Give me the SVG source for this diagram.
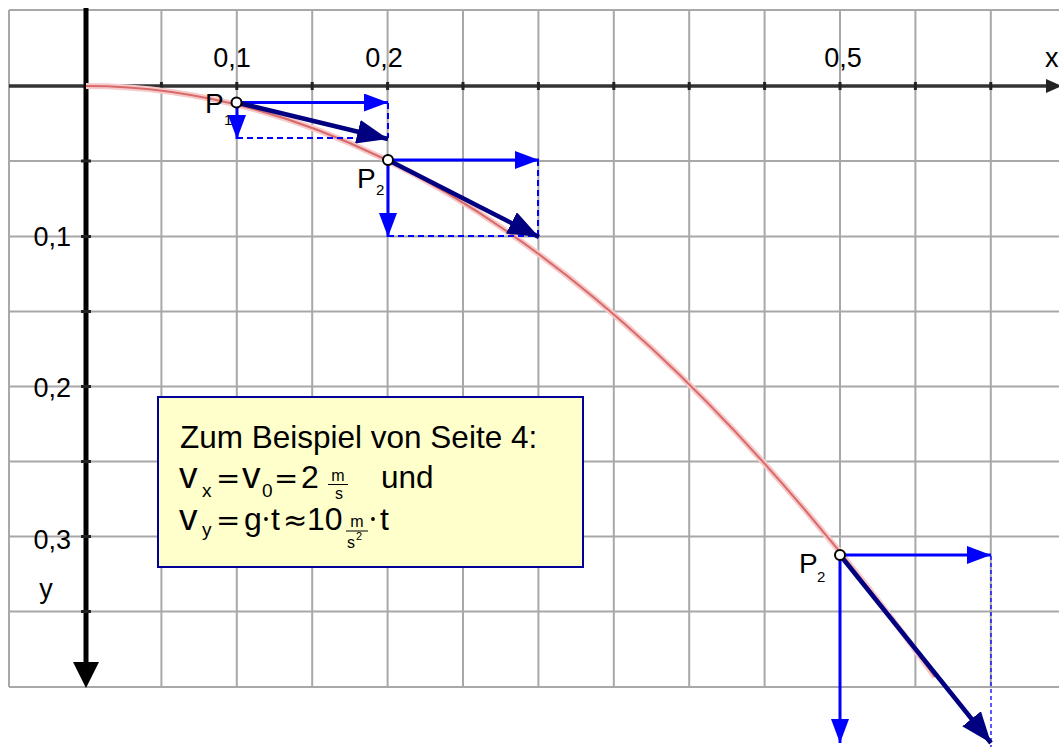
<svg xmlns="http://www.w3.org/2000/svg" width="1059" height="747" viewBox="0 0 1059 747">
<style>
  .grid line{stroke:#a8a8a8;stroke-width:2}
  .gridlt{stroke:#cfcfcf;stroke-width:2}
  .lbl{font-family:"Liberation Sans",Arial,sans-serif;font-size:27px;fill:#000}
  .plbl{font-family:"Liberation Sans",Arial,sans-serif;font-size:28px;fill:#000}
  .sub{font-family:"Liberation Sans",Arial,sans-serif;font-size:15px;fill:#000}
  .bx{font-family:"Liberation Sans",Arial,sans-serif;font-size:31.5px;fill:#000}
  .mv{font-family:"Liberation Sans",Arial,sans-serif;font-size:37px;fill:#000}
  .meq{font-family:"DejaVu Sans",sans-serif;font-size:29px;fill:#000}
  .md{font-family:"Liberation Sans",Arial,sans-serif;font-size:32px;fill:#000}
  .bsub{font-family:"Liberation Sans",Arial,sans-serif;font-size:19px;fill:#000}
  .fr{font-family:"Liberation Sans",Arial,sans-serif;font-size:16px;fill:#000}
  .vb{stroke:#0000ff;stroke-width:3;fill:none;marker-end:url(#blueHead)}
  .vn{stroke:#000080;stroke-width:4.5;fill:none;marker-end:url(#navyHead)}
  .dash{stroke:#0000ff;stroke-width:2;stroke-dasharray:6 4;fill:none}
  .dashthin{stroke:#0000ff;stroke-width:1.3;stroke-dasharray:4 3;fill:none}
  .pt{fill:#fff;stroke:#000;stroke-width:2}
  .tick{stroke:#222;stroke-width:3}
</style>
<defs>
  <marker id="blueHead" markerUnits="userSpaceOnUse" markerWidth="24" markerHeight="18" refX="24" refY="9" orient="auto">
    <path d="M0,0 L24,9 L0,18 z" fill="#0000ff"/>
  </marker>
  <marker id="navyHead" markerUnits="userSpaceOnUse" markerWidth="31" markerHeight="24" refX="31" refY="12" orient="auto">
    <path d="M0,0 L31,12 L0,24 z" fill="#000080"/>
  </marker>
</defs>
<rect width="1059" height="747" fill="#fff"/>

<g id="grid" class="grid">
  <line class="gridlt" x1="9" y1="10" x2="1059" y2="10"/>
  <line x1="9" y1="161" x2="1059" y2="161"/>
  <line x1="9" y1="236.5" x2="1059" y2="236.5"/>
  <line x1="9" y1="311.5" x2="1059" y2="311.5"/>
  <line x1="9" y1="386.5" x2="1059" y2="386.5"/>
  <line x1="9" y1="461.5" x2="1059" y2="461.5"/>
  <line x1="9" y1="536.5" x2="1059" y2="536.5"/>
  <line x1="9" y1="611.5" x2="1059" y2="611.5"/>
  <line x1="9" y1="687" x2="1059" y2="687"/>
  <line class="gridlt" x1="9" y1="10" x2="9" y2="687"/>
  <line x1="161.4" y1="10" x2="161.4" y2="687"/>
  <line x1="236.8" y1="10" x2="236.8" y2="687"/>
  <line x1="312.2" y1="10" x2="312.2" y2="687"/>
  <line x1="387.6" y1="10" x2="387.6" y2="687"/>
  <line x1="463" y1="10" x2="463" y2="687"/>
  <line x1="538.4" y1="10" x2="538.4" y2="687"/>
  <line x1="613.8" y1="10" x2="613.8" y2="687"/>
  <line x1="689.2" y1="10" x2="689.2" y2="687"/>
  <line x1="764.6" y1="10" x2="764.6" y2="687"/>
  <line x1="840" y1="10" x2="840" y2="687"/>
  <line x1="915.4" y1="10" x2="915.4" y2="687"/>
  <line x1="990.8" y1="10" x2="990.8" y2="687"/>
</g>

<g id="axes">
  <line x1="9" y1="86" x2="1048" y2="86" stroke="#333" stroke-width="3.5"/>
  <path d="M1046,79 L1062,86 L1046,93 z" fill="#222"/>
  <line x1="86" y1="8" x2="86" y2="664" stroke="#000" stroke-width="5"/>
  <path d="M73,662 L99,662 L86,688 z" fill="#000"/>
  <g class="tick">
    <line x1="161.4" y1="82" x2="161.4" y2="90"/>
    <line x1="236.8" y1="82" x2="236.8" y2="90"/>
    <line x1="312.2" y1="82" x2="312.2" y2="90"/>
    <line x1="387.6" y1="82" x2="387.6" y2="90"/>
    <line x1="463" y1="82" x2="463" y2="90"/>
    <line x1="538.4" y1="82" x2="538.4" y2="90"/>
    <line x1="613.8" y1="82" x2="613.8" y2="90"/>
    <line x1="689.2" y1="82" x2="689.2" y2="90"/>
    <line x1="764.6" y1="82" x2="764.6" y2="90"/>
    <line x1="840" y1="82" x2="840" y2="90"/>
    <line x1="915.4" y1="82" x2="915.4" y2="90"/>
    <line x1="990.8" y1="82" x2="990.8" y2="90"/>
    <line x1="81" y1="161" x2="91" y2="161"/>
    <line x1="81" y1="236.5" x2="91" y2="236.5"/>
    <line x1="81" y1="311.5" x2="91" y2="311.5"/>
    <line x1="81" y1="386.5" x2="91" y2="386.5"/>
    <line x1="81" y1="461.5" x2="91" y2="461.5"/>
    <line x1="81" y1="536.5" x2="91" y2="536.5"/>
    <line x1="81" y1="611.5" x2="91" y2="611.5"/>
  </g>
  <text class="lbl" x="232" y="67" text-anchor="middle">0,1</text>
  <text class="lbl" x="384" y="67" text-anchor="middle">0,2</text>
  <text class="lbl" x="843" y="67" text-anchor="middle">0,5</text>
  <text class="lbl" x="1045" y="67">x</text>
  <text class="lbl" x="71" y="246" text-anchor="end">0,1</text>
  <text class="lbl" x="71" y="397" text-anchor="end">0,2</text>
  <text class="lbl" x="71" y="549" text-anchor="end">0,3</text>
  <text class="lbl" x="46" y="598" text-anchor="middle">y</text>
</g>

<g id="curve" fill="none">
  <path d="M86,86 Q510.5,86 935,677" stroke="#f6caca" stroke-width="6"/>
  <path d="M86,86 Q510.5,86 935,677" stroke="#d86a6a" stroke-width="2"/>
</g>

<g id="connectors">
  <line class="dash" x1="237" y1="138" x2="388" y2="138"/>
  <line class="dash" x1="388" y1="103" x2="388" y2="138"/>
  <line class="dash" x1="388" y1="236" x2="538" y2="236"/>
  <line class="dash" x1="538" y1="160" x2="538" y2="236"/>
  <line class="dashthin" x1="991" y1="556" x2="991" y2="747"/>

  <line class="vb" x1="237" y1="102.5" x2="388" y2="102.5"/>
  <line class="vb" x1="237" y1="102.5" x2="237" y2="139"/>
  <line class="vb" x1="388" y1="160" x2="539" y2="160"/>
  <line class="vb" x1="388" y1="160" x2="388" y2="237"/>
  <line class="vb" x1="840" y1="555" x2="991" y2="555"/>
  <line class="vb" x1="840" y1="555" x2="840" y2="743"/>

  <line class="vn" x1="237" y1="102.5" x2="388" y2="139"/>
  <line class="vn" x1="388" y1="160" x2="539" y2="237"/>
  <line class="vn" x1="840" y1="555" x2="991" y2="743"/>
</g>

<g id="P1">
  <circle class="pt" cx="236.5" cy="102.5" r="5"/>
  <text class="plbl" x="205" y="113">P</text>
  <text class="sub" x="224" y="125">1</text>
</g>
<g id="P2a">
  <circle class="pt" cx="388" cy="160" r="5"/>
  <text class="plbl" x="357" y="188">P</text>
  <text class="sub" x="376" y="195">2</text>
</g>
<g id="P2b">
  <circle class="pt" cx="840" cy="555" r="5"/>
  <text class="plbl" x="799" y="573">P</text>
  <text class="sub" x="817" y="582">2</text>
</g>

<g id="infobox">
  <rect x="158" y="397" width="425" height="170" fill="#ffffcc" stroke="#000099" stroke-width="2"/>
  <text class="bx" x="180" y="448">Zum Beispiel von Seite 4:</text>
  <text class="mv" x="179" y="488">v</text>
  <text class="bsub" x="202" y="497">x</text>
  <text class="meq" x="216" y="488">=</text>
  <text class="mv" x="242" y="488">v</text>
  <text class="bsub" x="262" y="497">0</text>
  <text class="meq" x="274" y="488">=</text>
  <text class="md" x="301" y="488">2</text>
  <text class="fr" x="338" y="481" text-anchor="middle">m</text>
  <line x1="328" y1="484.5" x2="348" y2="484.5" stroke="#000" stroke-width="1"/>
  <text class="fr" x="339" y="499" text-anchor="middle">s</text>
  <text class="bx" x="381" y="488">und</text>

  <text class="mv" x="179" y="530">v</text>
  <text class="bsub" x="202" y="536">y</text>
  <text class="meq" x="216" y="530">=</text>
  <text class="md" x="244" y="530">g</text>
  <circle cx="266" cy="519" r="1.9" fill="#000"/>
  <text class="md" x="271" y="530">t</text>
  <text class="meq" x="283" y="530">≈</text>
  <text class="md" x="307" y="530">10</text>
  <text class="fr" x="357" y="527" text-anchor="middle">m</text>
  <line x1="346" y1="531" x2="368" y2="531" stroke="#000" stroke-width="1"/>
  <text class="fr" x="347" y="548">s</text>
  <text style="font-family:'Liberation Sans',Arial,sans-serif;font-size:11px" x="356" y="540">2</text>
  <circle cx="373" cy="519" r="1.9" fill="#000"/>
  <text class="md" x="380" y="530">t</text>
</g>
</svg>
